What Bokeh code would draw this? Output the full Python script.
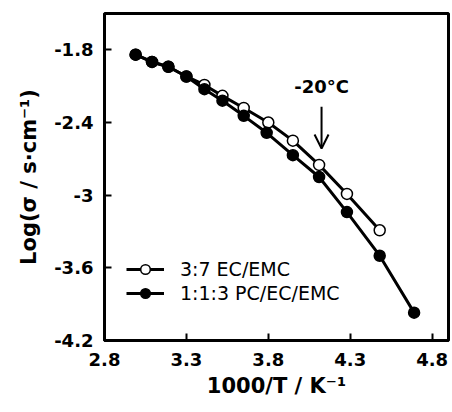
from bokeh.plotting import figure
from bokeh.models import (FixedTicker, Legend, LegendItem, Arrow, OpenHead,
                          Label, ColumnDataSource)
from bokeh.embed import file_html
from bokeh.resources import INLINE

# ---- data ----
x_ec_emc = [2.99, 3.09, 3.19, 3.30, 3.41, 3.52, 3.65, 3.80, 3.95, 4.11, 4.28, 4.48]
y_ec_emc = [-1.84, -1.90, -1.94, -2.02, -2.09, -2.18, -2.28, -2.40, -2.55, -2.75, -2.99, -3.29]

x_pc_ec_emc = [2.99, 3.09, 3.19, 3.30, 3.41, 3.52, 3.65, 3.79, 3.95, 4.11, 4.28, 4.48, 4.69]
y_pc_ec_emc = [-1.84, -1.90, -1.94, -2.02, -2.125, -2.22, -2.345, -2.485, -2.67, -2.85, -3.14, -3.50, -3.97]

series_names = ["3:7 EC/EMC", "1:1:3 PC/EC/EMC"]
x_ticks = [2.8, 3.3, 3.8, 4.3, 4.8]
y_ticks = [-1.8, -2.4, -3.0, -3.6, -4.2]
y_tick_labels = {-1.8: "-1.8", -2.4: "-2.4", -3.0: "-3", -3.6: "-3.6", -4.2: "-4.2"}

annot_text = "-20°C"
annot_x = 4.125
annot_text_y = -2.10
arrow_y_start = -2.27
arrow_y_end = -2.615

FONT = "DejaVu Sans"

p = figure(width=452, height=400, x_range=(2.8, 4.9), y_range=(-4.2, -1.5),
           output_backend="svg", toolbar_location=None,
           min_border_left=104, min_border_top=13, min_border_right=4,
           min_border_bottom=60)
p.grid.visible = False
p.outline_line_color = "black"
p.outline_line_width = 3
p.background_fill_color = "white"
p.border_fill_color = "white"

for ax in (p.xaxis[0], p.yaxis[0]):
    ax.axis_line_width = 3
    ax.major_tick_in = 7
    ax.major_tick_out = 0
    ax.major_tick_line_width = 2
    ax.minor_tick_line_color = None
    ax.major_label_text_font = FONT
    ax.major_label_text_font_style = "bold"
    ax.major_label_text_font_size = "18px"
    ax.major_label_text_color = "black"
    ax.axis_label_text_font = FONT
    ax.axis_label_text_font_style = "bold"
    ax.axis_label_text_font_size = "21px"
    ax.axis_label_text_color = "black"

p.xaxis.ticker = FixedTicker(ticks=x_ticks)
p.yaxis.ticker = FixedTicker(ticks=y_ticks)
p.yaxis.major_label_overrides = y_tick_labels
p.xaxis.axis_label = "1000/T / K⁻¹"
p.yaxis.axis_label = "Log(σ / s·cm⁻¹)"
p.xaxis.major_label_standoff = 12
p.yaxis.major_label_standoff = 11
p.xaxis.axis_label_standoff = 5
p.yaxis.axis_label_standoff = 10

s1 = ColumnDataSource(dict(x=x_ec_emc, y=y_ec_emc))
s2 = ColumnDataSource(dict(x=x_pc_ec_emc, y=y_pc_ec_emc))

l1 = p.line("x", "y", source=s1, line_color="black", line_width=3)
m1 = p.scatter("x", "y", source=s1, size=11, fill_color="white",
               line_color="black", line_width=1.5)
l2 = p.line("x", "y", source=s2, line_color="black", line_width=3)
m2 = p.scatter("x", "y", source=s2, size=11, fill_color="black",
               line_color="black", line_width=1.5)

legend = Legend(items=[LegendItem(label=series_names[0], renderers=[l1, m1]),
                       LegendItem(label=series_names[1], renderers=[l2, m2])],
                location=(22, 35), orientation="vertical")
legend.border_line_color = None
legend.background_fill_alpha = 0
legend.glyph_width = 38
legend.glyph_height = 24
legend.spacing = 0
legend.padding = 0
legend.margin = 0
legend.label_standoff = 16
legend.label_text_font = FONT
legend.label_text_font_size = "19px"
legend.label_text_color = "black"
p.add_layout(legend, "center")

p.add_layout(Arrow(end=OpenHead(size=14, line_width=2, line_color="black"),
                   x_start=annot_x, y_start=arrow_y_start,
                   x_end=annot_x, y_end=arrow_y_end,
                   line_width=2, line_color="black"))
p.add_layout(Label(x=annot_x, y=annot_text_y, text=annot_text,
                   text_font=FONT, text_font_style="bold",
                   text_font_size="18px", text_align="center",
                   text_baseline="alphabetic", text_color="black"))

open("out.html", "w").write(file_html(p, INLINE))
